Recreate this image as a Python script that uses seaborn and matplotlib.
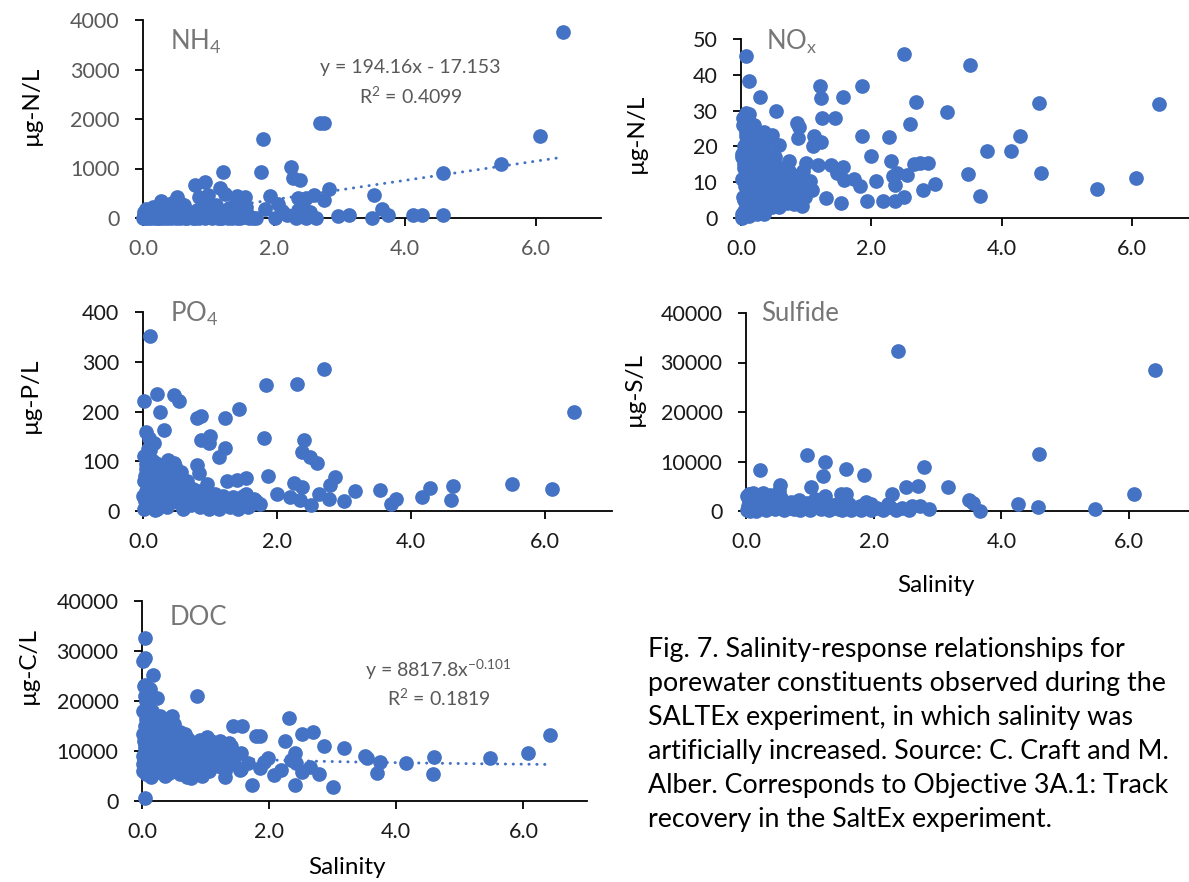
import matplotlib
matplotlib.use('Agg')
import matplotlib.pyplot as plt
import numpy
import seaborn as sns

W, H = 1189, 882

# ---- values (salinity, concentration) ----
nh4_sal = [6.42, 6.07, 5.47, 4.59, 4.58, 4.27, 4.13, 3.53, 3.66, 3.74, 3.50, 3.15, 2.98, 2.85,
           2.77, 2.71, 2.77, 2.62, 2.49, 2.37, 2.40, 2.26, 2.29, 2.37, 2.34, 2.49, 2.65, 1.84,
           1.80, 1.94, 2.07, 1.86, 2.02, 1.72, 1.56, 1.43, 1.22, 1.18, 1.26, 1.11, 1.30, 1.43,
           1.56, 1.17, 0.95, 0.80, 1.00, 0.85, 0.82, 0.71, 0.52, 0.56, 0.27, 0.39, 0.47, 2.12,
           2.20, 2.45, 2.55,
           0.00, 0.02, 0.03, 0.05, 0.06, 0.08, 0.10, 0.12, 0.14, 0.16, 0.18, 0.20, 0.23, 0.25,
           0.28, 0.30, 0.33, 0.36, 0.40, 0.43, 0.46, 0.50, 0.53, 0.57, 0.60, 0.64, 0.68, 0.72,
           0.76, 0.80, 0.85, 0.90, 0.95, 1.00, 1.05, 1.10, 1.15, 1.20, 1.25, 1.30, 1.36, 1.42,
           1.48, 1.55, 1.62, 1.68,
           0.01, 0.04, 0.07, 0.11, 0.15, 0.19, 0.24, 0.29, 0.35, 0.41, 0.48, 0.55, 0.63, 0.70,
           0.78, 0.88, 0.98, 1.08, 1.18, 1.32, 1.45, 1.58,
           0.02, 0.06, 0.09, 0.13, 0.17, 0.21, 0.26, 0.31, 0.37, 0.44, 0.51, 0.58, 0.66, 0.74,
           0.83, 0.93, 1.03, 1.13, 1.23, 1.34, 1.46, 1.60, 0.30, 0.45, 0.62, 0.38, 0.92, 1.40]
nh4_val = [3750, 1663, 1091, 903, 61, 61, 61, 465, 175, 60, 0, 60, 40, 586,
           1912, 1912, 364, 465, 400, 400, 768, 1037, 800, 160, 0, 0, 0, 1596,
           923, 451, 283, 190, 0, 0, 420, 440, 936, 600, 480, 263, 95, 0,
           130, 0, 734, 667, 465, 430, 160, 60, 418, 300, 343, 200, 100, 150,
           60, 230, 120,
           10, 40, 0, 20, 60, 5, 30, 0, 50, 15, 0, 35, 10, 0,
           25, 5, 45, 0, 20, 5, 40, 0, 15, 0, 30, 5, 0, 25,
           0, 10, 0, 20, 0, 15, 0, 25, 5, 0, 20, 0, 10, 30,
           0, 15, 0, 5,
           120, 180, 90, 150, 230, 100, 170, 120, 250, 90, 160, 110, 200, 130,
           90, 140, 100, 180, 120, 200, 90, 230,
           60, 20, 140, 40, 80, 60, 30, 70, 20, 60, 80, 30, 70, 40,
           60, 30, 70, 40, 60, 30, 50, 60, 280, 300, 260, 120, 300, 280]

nox_sal = [0.07, 0.13, 0.29, 0.08, 0.54, 2.50, 3.52, 1.85, 1.22, 1.23, 1.57, 2.69, 4.58, 6.42,
           3.16, 1.25, 1.44, 0.86, 0.89, 2.59, 0.48, 0.87, 1.86, 2.27, 4.29, 1.12, 1.23, 1.11,
           3.77, 4.15, 0.59, 1.99, 2.31, 2.66, 2.75, 2.87, 0.74, 1.00, 1.18, 1.38, 1.56, 1.47,
           1.58, 1.73, 1.82, 3.49, 4.60, 6.07, 2.08, 2.34, 2.40, 2.37, 2.55, 2.98, 2.80, 3.67,
           5.46, 1.30, 1.54, 1.93, 2.18, 2.37, 2.50, 0.94, 1.06, 1.09, 0.71,
           0.02, 0.05, 0.08, 0.03, 0.10, 0.06, 0.12, 0.04, 0.09, 0.15, 0.05, 0.11, 0.07, 0.03,
           0.10, 0.14, 0.18, 0.20, 0.22, 0.25, 0.19, 0.16, 0.24, 0.28, 0.30, 0.27, 0.33, 0.35,
           0.40, 0.38, 0.42, 0.45, 0.50, 0.52, 0.55, 0.60, 0.62, 0.66, 0.70, 0.74, 0.78, 0.82,
           0.85, 0.90, 0.95, 0.98, 1.03, 0.13, 0.01, 0.12, 0.36, 0.47,
           0.01, 0.04, 0.06, 0.09, 0.02, 0.07, 0.11, 0.03, 0.08, 0.13, 0.05, 0.10, 0.15, 0.17,
           0.21, 0.23, 0.26, 0.29, 0.32, 0.20, 0.18, 0.24, 0.34, 0.37, 0.43, 0.48, 0.57, 0.64,
           0.68, 0.76, 0.80, 0.88, 0.92, 0.58, 0.46, 0.41, 0.31, 0.14, 0.02, 0.06]
nox_val = [45.3, 38.4, 33.7, 29.3, 29.8, 45.8, 42.7, 37.0, 37.0, 33.5, 33.8, 32.5, 32.1, 31.8,
           29.5, 27.9, 27.9, 26.5, 25.4, 26.3, 23.3, 22.3, 22.8, 22.5, 22.8, 22.8, 21.1, 20.0,
           18.8, 18.8, 20.3, 17.2, 15.8, 15.1, 15.4, 15.4, 15.8, 15.4, 14.7, 14.7, 14.2, 12.6,
           10.7, 11.0, 8.8, 12.3, 12.6, 11.2, 10.4, 11.6, 12.6, 9.1, 12.1, 9.6, 7.7, 6.2,
           8.2, 5.6, 4.2, 4.8, 4.7, 4.7, 5.9, 3.3, 10.2, 7.9, 4.2,
           0, 2, 4, 6, 8, 10, 12, 14, 16, 18, 20, 22, 24, 26,
           27.5, 25, 21, 17, 13, 9, 5, 1, 3, 7, 11, 15, 19, 24,
           21, 14, 9, 5, 12, 17, 8, 14, 5, 10, 7, 13, 9, 4,
           11, 8, 13, 6, 9, 0.5, 18, 29, 1, 3,
           1, 5, 9, 13, 17, 21, 25, 28, 23, 19, 15, 11, 7, 3,
           6, 10, 14, 18, 22, 26, 24, 1, 4, 8, 12, 16, 11, 9,
           13, 6, 12, 10, 5, 3, 7, 18, 2, 15, 11, 20]

po4_sal = [0.10, 0.02, 0.21, 0.46, 0.54, 0.26, 0.31, 0.05, 0.09, 0.16, 0.80, 0.86, 1.23, 1.43,
           1.84, 2.30, 2.70, 6.44, 0.86, 1.00, 0.99, 1.14, 1.23, 1.81, 2.41, 2.37, 2.49, 2.59,
           1.86, 2.87, 2.79, 2.26, 2.37, 1.26, 1.40, 1.53, 1.54, 3.17, 3.53, 4.29, 4.62, 5.50,
           6.10, 4.60, 4.17, 3.77, 3.70, 3.00, 2.77, 2.63, 2.51, 2.34, 2.00, 2.20, 1.74, 0.96,
           0.80, 0.83, 0.57, 0.46, 0.37, 0.06, 0.11,
           0.01, 0.03, 0.05, 0.02, 0.06, 0.04, 0.10, 0.12, 0.09, 0.14, 0.11, 0.18, 0.20, 0.22,
           0.19, 0.25, 0.28, 0.30, 0.33, 0.36, 0.40, 0.43, 0.46, 0.50, 0.53, 0.57, 0.60, 0.64,
           0.68, 0.72, 0.76, 0.80, 0.85, 0.90, 0.95, 1.00, 1.05, 1.10, 1.15, 1.22, 1.30, 1.38,
           1.45, 1.52, 1.60, 1.68, 0.07, 0.15, 0.23, 0.38, 0.48,
           0.00, 0.03, 0.07, 0.12, 0.16, 0.21, 0.26, 0.31, 0.35, 0.39, 0.44, 0.49, 0.55, 0.61,
           0.66, 0.71, 0.75, 0.82, 0.88, 0.93, 0.98, 1.03, 1.08, 1.13, 1.19, 1.27, 1.34, 1.42,
           1.49, 1.57, 1.65, 0.02, 0.08, 0.13, 0.18, 0.27, 0.33, 0.42, 0.52, 0.58, 0.08, 0.04]
po4_val = [352, 221, 235, 234, 221, 198, 163, 159, 146, 137, 186, 191, 186, 206,
           254, 256, 285, 199, 142, 151, 136, 109, 126, 147, 142, 119, 109, 96,
           70, 69, 52, 56, 49, 61, 62, 66, 35, 40, 42, 47, 51, 54,
           44, 23, 29, 25, 15, 21, 24, 34, 12, 22, 35, 29, 15, 54,
           92, 76, 79, 96, 102, 106, 122,
           5, 20, 40, 60, 80, 95, 10, 30, 50, 70, 90, 3, 25, 45,
           65, 85, 15, 35, 55, 8, 28, 48, 75, 18, 38, 60, 5, 25,
           45, 12, 32, 20, 8, 28, 15, 35, 10, 25, 12, 20, 8, 18,
           10, 22, 12, 20, 110, 100, 95, 98, 90,
           30, 70, 15, 55, 85, 5, 60, 40, 80, 20, 65, 45, 30, 15,
           60, 30, 45, 40, 22, 40, 5, 20, 35, 5, 30, 22, 28, 5,
           30, 8, 25, 110, 125, 60, 40, 70, 90, 60, 80, 40, 100, 85]

sulf_sal = [2.38, 6.41, 4.59, 0.95, 1.24, 0.22, 1.57, 2.78, 1.85, 1.21, 1.02, 2.50, 2.69, 3.16,
            0.53, 3.49, 3.55, 2.29, 4.26, 4.57, 5.46, 6.08, 3.66, 1.48, 1.57, 1.24, 0.27, 0.05,
            0.83, 0.71, 1.88, 1.95, 2.22, 2.60, 2.72, 2.87,
            0.01, 0.03, 0.05, 0.02, 0.08, 0.10, 0.12, 0.15, 0.18, 0.20, 0.24, 0.28, 0.32, 0.36,
            0.40, 0.45, 0.50, 0.55, 0.60, 0.65, 0.70, 0.75, 0.80, 0.85, 0.90, 0.95, 1.00, 1.06,
            1.12, 1.18, 1.25, 1.30, 1.36, 1.42, 1.50, 1.58, 1.65, 1.72, 1.80, 1.88, 1.95, 2.05,
            2.15, 2.25, 2.35, 2.45, 2.55, 0.30, 0.52, 0.06,
            0.04, 0.09, 0.13, 0.17, 0.22, 0.26, 0.34, 0.38, 0.43, 0.48, 0.58, 0.68, 0.78, 0.88,
            0.98, 1.08, 1.20, 1.33, 1.46, 1.62, 1.78, 1.92, 0.11, 0.07]
sulf_val = [32260, 28420, 11580, 11380, 9900, 8215, 8420, 8890, 7340, 7070, 4850, 4850, 5050, 4850,
            5320, 2290, 1680, 3370, 1350, 810, 470, 3500, 0, 3370, 3370, 3030, 3700, 3500,
            2150, 1480, 1820, 1480, 1480, 940, 940, 470,
            200, 1000, 2000, 3000, 500, 1500, 2500, 0, 1200, 2200, 600, 1800, 300, 1000,
            2000, 400, 1200, 2600, 200, 900, 1800, 500, 1200, 200, 800, 1600, 300, 1000,
            1900, 400, 1100, 200, 700, 1500, 300, 900, 200, 600, 300, 900, 200, 600,
            200, 800, 300, 700, 200, 3000, 4000, 3500,
            2500, 3200, 800, 2800, 1500, 2400, 1500, 3300, 2600, 1800, 1400, 600, 1900, 1300,
            500, 2400, 1600, 1300, 500, 1400, 1100, 600, 3600, 0]

doc_sal = [0.04, 0.05, 0.02, 0.17, 0.24, 0.86, 0.04, 0.05, 2.31, 1.43, 1.57, 1.80, 1.86, 2.69,
           2.51, 2.25, 2.87, 3.17, 6.42, 6.07, 5.48, 4.60, 4.58, 4.16, 3.75, 3.69, 3.50, 3.54,
           3.00, 2.40, 1.73, 2.79, 2.64, 2.52, 2.43, 2.40, 2.34, 2.07, 2.19, 1.98, 1.92, 1.86,
           1.54, 1.67, 1.55, 1.37, 1.31, 0.77, 0.14,
           0.01, 0.02, 0.03, 0.04, 0.02, 0.05, 0.03, 0.08, 0.09, 0.10, 0.11, 0.08, 0.14, 0.15,
           0.16, 0.17, 0.15, 0.20, 0.22, 0.23, 0.21, 0.27, 0.28, 0.30, 0.31, 0.35, 0.37, 0.38,
           0.40, 0.43, 0.45, 0.47, 0.48, 0.52, 0.54, 0.56, 0.60, 0.62, 0.64, 0.68, 0.70, 0.73,
           0.77, 0.79, 0.82, 0.86, 0.88, 0.92, 0.96, 1.00, 1.03, 1.06, 1.10, 1.15, 1.20, 1.25,
           1.30, 1.35, 1.40, 1.45, 1.50, 1.55, 0.45, 0.12, 0.06,
           0.01, 0.02, 0.04, 0.06, 0.07, 0.09, 0.12, 0.13, 0.18, 0.19, 0.25, 0.26, 0.29, 0.33,
           0.34, 0.39, 0.41, 0.42, 0.50, 0.51, 0.58, 0.59, 0.66, 0.67, 0.75, 0.84, 0.90, 0.99,
           1.08, 1.12, 1.18, 1.28, 1.33, 1.38, 0.03, 0.07, 0.10, 0.36, 0.55, 0.71, 0.94,
           0.05, 0.11, 0.17, 0.24, 0.32, 0.44, 0.53, 0.61, 0.08, 0.19, 0.28, 0.47, 0.57, 0.65,
           0.81, 1.05, 1.22]
doc_val = [32640, 28630, 27960, 25280, 20600, 20940, 535, 23280, 16590, 14920, 14920, 12910, 12910, 13780,
           13450, 12040, 11100, 10570, 13240, 9570, 8560, 8900, 5350, 7560, 7890, 5690, 9030, 8560,
           2740, 3210, 3210, 5350, 6890, 5890, 7560, 9570, 8230, 5220, 6220, 8560, 7890, 6560,
           6220, 7560, 9570, 11570, 4880, 4550, 4880,
           6000, 9000, 12000, 15000, 18000, 21000, 23000, 7500, 10500, 13500, 16500, 19500, 5500, 9000,
           12000, 15000, 18000, 7000, 10000, 13000, 16000, 5800, 8800, 11800, 14800, 7200, 10200, 13200,
           16200, 5600, 8600, 11600, 14600, 7000, 10000, 13000, 5500, 8500, 11500, 7000, 10000, 12500,
           5200, 8200, 11000, 6500, 9500, 12200, 7500, 10500, 12800, 6000, 9000, 11500, 7000, 9500,
           6000, 8200, 11000, 7500, 9500, 6500, 16800, 22500, 17500,
           7500, 13500, 10500, 16500, 20000, 12000, 15000, 8500, 10500, 13500, 9500, 15500, 7000, 12500,
           16500, 8500, 11000, 14000, 12000, 15500, 10000, 13800, 9000, 13500, 10000, 7500, 11000, 9000,
           12000, 7500, 10000, 8000, 11500, 9500, 8500, 5500, 22000, 5000, 6000, 4800, 5000,
           11000, 7000, 10000, 12500, 9500, 10200, 8700, 7200, 14000, 13500, 17000, 17000, 11500, 10500,
           9500, 7800, 12000]

# Excel trendline coefficients printed on the chart
nh4_fit = (194.16, -17.153)   # linear
doc_fit = (8817.8, -0.101)    # power

caption_lines = [
	"Fig. 7. Salinity-response relationships for",
	"porewater constituents observed during the",
	"SALTEx experiment, in which salinity was",
	"artificially increased. Source: C. Craft and M.",
	"Alber. Corresponds to Objective 3A.1: Track",
	"recovery in the SaltEx experiment.",
]

BLUE = '#4472C4'
GREY = '#767676'

sns.set_style('ticks')
plt.rcParams['font.family'] = ['Lato', 'DejaVu Sans']
plt.rcParams['mathtext.default'] = 'regular'


def fx(px):
	return px / W

def fy(py):
	return 1 - py / H

def make_panel(fig, left, right, top, bottom, sal, val, ymax, ystep, tickcolor):
	ax = fig.add_axes([fx(left), fy(bottom), fx(right - left), (bottom - top) / H])
	sns.scatterplot(x=sal, y=val, ax=ax, color=BLUE, s=112, linewidth=0,
					clip_on=False, zorder=3)
	ax.set_xlim(0, 7)
	ax.set_ylim(0, ymax)
	ax.set_xticks([0, 2, 4, 6])
	ax.set_xticklabels(['0.0', '2.0', '4.0', '6.0'])
	ax.set_yticks(numpy.arange(0, ymax + 1, ystep))
	sns.despine(ax=ax)
	for sp in ('left', 'bottom'):
		ax.spines[sp].set_color('black')
		ax.spines[sp].set_linewidth(1.3)
	ax.tick_params(axis='both', direction='out', length=6, width=1.3,
				   color='black', labelsize=15.5, labelcolor=tickcolor)
	ax.tick_params(axis='y', pad=11)
	ax.tick_params(axis='x', pad=9)
	ax.set_xlabel('')
	ax.set_ylabel('')
	return ax


fig = plt.figure(figsize=(W / 100, H / 100), dpi=100)

ax_nh4 = make_panel(fig, 143, 601, 20, 218, nh4_sal, nh4_val, 4000, 1000, '#595959')
ax_nox = make_panel(fig, 741, 1197, 39, 218, nox_sal, nox_val, 50, 10, '#1a1a1a')
ax_po4 = make_panel(fig, 143, 612, 312, 511, po4_sal, po4_val, 400, 100, '#1a1a1a')
ax_sul = make_panel(fig, 746, 1193, 313, 511, sulf_sal, sulf_val, 40000, 10000, '#1a1a1a')
ax_doc = make_panel(fig, 142, 587, 601, 801, doc_sal, doc_val, 40000, 10000, '#1a1a1a')

# trendlines (dotted, as in the Excel chart)
dot_style = dict(color=BLUE, lw=2.1, linestyle=(0, (0.1, 2.6)),
				 dash_capstyle='round', zorder=2)
xs = numpy.array([min(nh4_sal), max(nh4_sal)])
ax_nh4.plot(xs, nh4_fit[0] * xs + nh4_fit[1], **dot_style)
xs = numpy.geomspace(0.02, max(doc_sal), 200)
ax_doc.plot(xs, doc_fit[0] * xs ** doc_fit[1], **dot_style)

# panel names
for txt, x, y in [('NH$_4$', 170, 50), ('NO$_x$', 766, 50), ('PO$_4$', 170, 322),
				  ('Sulfide', 761, 321), ('DOC', 170, 625)]:
	fig.text(fx(x), fy(y), txt, ha='left', va='baseline', fontsize=18.5, color=GREY)

# y labels
for txt, x, y in [('µg-N/L', 31, 105), ('µg-N/L', 636, 133), ('µg-P/L', 30, 395),
				  ('µg-S/L', 634, 389), ('µg-C/L', 28, 666)]:
	fig.text(fx(x), fy(y), txt, rotation=90, ha='center', va='center',
			 fontsize=17.5, color='black')

for x, y in [(936, 585), (347, 868)]:
	fig.text(fx(x), fy(y), 'Salinity', ha='center', va='center', fontsize=17.5, color='black')

# fit equations
eq_kw = dict(ha='center', va='center', fontsize=14, color='#595959')
fig.text(fx(410), fy(68), 'y = 194.16x - 17.153', **eq_kw)
fig.text(fx(411), fy(96), 'R$^2$ = 0.4099', **eq_kw)
fig.text(fx(438), fy(670), 'y = 8817.8x$^{-0.101}$', **eq_kw)
fig.text(fx(439), fy(698), 'R$^2$ = 0.1819', **eq_kw)

for i, line in enumerate(caption_lines):
	fig.text(fx(648), fy(650 + 34 * i), line, ha='left', va='center',
			 fontsize=19.3, color='black')

fig.savefig('out.png', dpi=100)
